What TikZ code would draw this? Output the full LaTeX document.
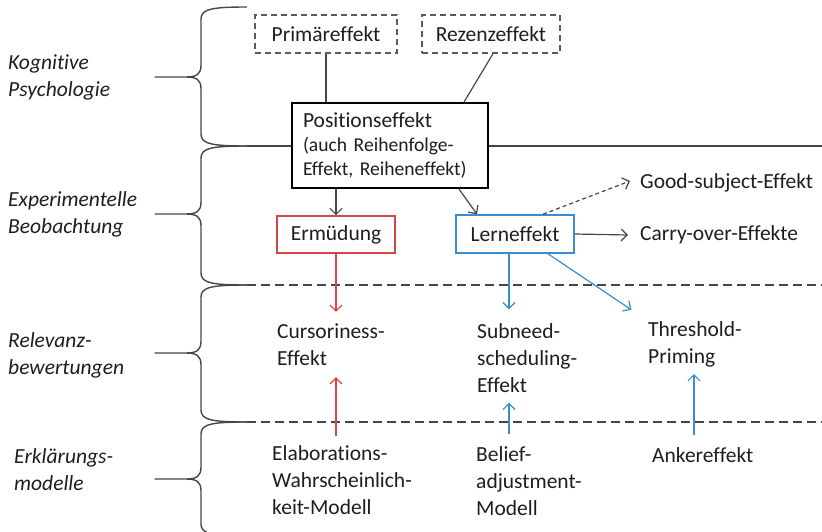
\documentclass[tikz,border=0pt]{standalone}
\usepackage{fontspec}
\setmainfont{Carlito}[Ligatures={NoCommon,NoRare,NoDiscretionary}]
\usetikzlibrary{arrows.meta}

\definecolor{txtgray}{RGB}{30,30,30}
\definecolor{linegray}{RGB}{70,70,70}
\definecolor{boxgray}{RGB}{90,90,90}
\definecolor{errred}{RGB}{214,70,70}
\definecolor{lrnblue}{RGB}{58,142,208}

% curly brace on the left: top end, tip, bottom end (y values)
\newcommand{\levelbrace}[3]{%
  \draw[brace] (247,#1) .. controls (212,#1) and (201,#1+2) .. (201,#1+12)
    -- (201,#2-12) .. controls (201,#2-3) and (197,#2) .. (186,#2) -- (155,#2)
    -- (186,#2) .. controls (197,#2) and (201,#2+3) .. (201,#2+12)
    -- (201,#3-12) .. controls (201,#3-2) and (212,#3) .. (247,#3);}

\begin{document}
\begin{tikzpicture}[x=1pt,y=-1pt,
  every node/.style={text=txtgray},
  plain/.style={inner sep=0pt, anchor=west, align=left, font=\fontsize{21.5}{27}\selectfont},
  level/.style={plain, font=\fontsize{21.5}{27}\selectfont\itshape},
  dbox/.style={draw=boxgray, line width=1.3pt, dash pattern=on 6pt off 4pt,
    minimum height=38pt, inner sep=0pt, font=\fontsize{21.5}{27}\selectfont},
  posbox/.style={draw=black, line width=2.2pt, fill=white, minimum width=196pt,
    minimum height=85pt, text width=174pt, align=left, inner xsep=11pt,
    font=\fontsize{19.6}{24}\selectfont},
  redbox/.style={draw=errred, line width=1.6pt, minimum width=118pt,
    minimum height=37pt, inner sep=0pt, font=\fontsize{21.5}{27}\selectfont},
  bluebox/.style={draw=lrnblue, line width=1.6pt, minimum width=118pt,
    minimum height=38pt, inner sep=0pt, font=\fontsize{21.5}{27}\selectfont},
  link/.style={draw=linegray, line width=1.2pt},
  arr/.style={link, -{Straight Barb[length=6pt,width=12pt]}},
  dasharr/.style={arr, dash pattern=on 4pt off 3pt},
  redarr/.style={arr, draw=errred},
  bluearr/.style={arr, draw=lrnblue},
  brace/.style={draw=linegray, line width=1.4pt, line join=round},
  sepline/.style={draw=linegray, line width=1.3pt},
  sepdash/.style={sepline, dash pattern=on 9pt off 5pt}]

\useasboundingbox (0,0) rectangle (822,531);

% level braces and separators
\levelbrace{7}{77}{146}
\levelbrace{146}{214}{285}
\levelbrace{285}{353}{422}
\levelbrace{422}{479}{536}
\draw[sepline] (247,146) -- (822,146);
\draw[sepdash] (247,285) -- (822,285);
\draw[sepdash] (247,422) -- (822,422);

% level labels
\node[level] (kog) at (8,77) {Kognitive\\Psychologie};
\node[level] (exp) at (8,214) {Experimentelle\\Beobachtung};
\node[level] (rel) at (8,355) {Relevanz-\\bewertungen};
\node[level] (erk) at (14,470) {Erklärungs-\\modelle};

% effects
\node[dbox, minimum width=142pt] (prim) at (326,34) {Primäreffekt};
\node[dbox, minimum width=138pt] (rez) at (491,34) {Rezenzeffekt};
\node[posbox] (pos) at (390,145.5)
  {{\fontsize{21.5}{24}\selectfont Positionseffekt}\\(auch Reihenfolge-\\Effekt, Reiheneffekt)};
\node[redbox] (erm) at (336,234.5) {Ermüdung};
\node[bluebox] (lern) at (515,234) {Lerneffekt};
\node[plain] (good) at (640,183) {Good-subject-Effekt};
\node[plain] (carry) at (640,235) {Carry-over-Effekte};
\node[plain] (curs) at (277,345) {Cursoriness-\\Effekt};
\node[plain] (subn) at (477,358) {Subneed-\\scheduling-\\Effekt};
\node[plain] (thr) at (648,344) {Threshold-\\Priming};
\node[plain] (elab) at (272,480) {Elaborations-\\Wahrscheinlich-\\keit-Modell};
\node[plain] (bel) at (476,481) {Belief-\\adjustment-\\Modell};
\node[plain] (ank) at (652,455) {Ankereffekt};

% connectors
\draw[link] (prim.south) -- (prim.south |- pos.north);
\draw[link] ([xshift=2pt]rez.south) -- ([xshift=-25pt]pos.north east);
\draw[arr] (erm.north |- pos.south) -- (erm.north);
\draw[arr] ([xshift=69pt]pos.south) -- ([xshift=-38pt]lern.north);
\draw[dasharr] ([xshift=28pt]lern.north) -- ([xshift=-10pt,yshift=2pt]good.west);
\draw[arr] (lern.east) -- ([xshift=-12pt]carry.west);

\draw[redarr, shorten >=12pt] (erm.south) -- (erm.south |- curs.north);
\draw[redarr, shorten <=9pt, shorten >=11pt] (erm.south |- elab.north) -- (erm.south |- curs.south);

\coordinate (sx) at ([xshift=-6pt]lern.south);
\draw[bluearr, shorten >=14pt] (sx) -- (sx |- subn.north);
\draw[bluearr, shorten <=12pt, shorten >=10pt] (sx |- bel.north) -- (sx |- subn.south);
\draw[bluearr, shorten >=20pt] ([xshift=33pt]lern.south) -- (thr.north west);
\coordinate (tx) at ([xshift=46pt]thr.south west);
\draw[bluearr, shorten <=12pt, shorten >=7pt] (tx |- ank.north) -- (tx);
\end{tikzpicture}
\end{document}
